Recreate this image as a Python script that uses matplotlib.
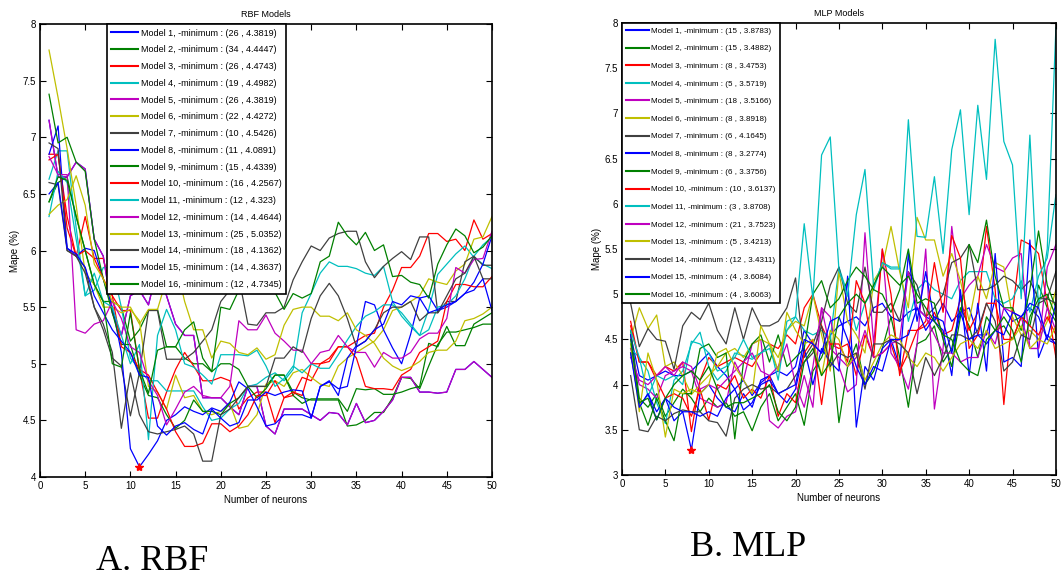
import numpy as np
import matplotlib
matplotlib.use("Agg")
import matplotlib.pyplot as plt

# fonts: narrow sans for the chart text, serif for the captions
plt.rcParams['font.family'] = ['Liberation Sans Narrow', 'Liberation Sans', 'DejaVu Sans']

# number of neurons on the x axis
neurons = list(range(1, 51))

# ---------------- RBF models (Mape %) ----------------
rbf_m1 = [7.15, 6.65, 6.65, 6.78, 6.72, 6.10, 5.95, 5.45, 5.25, 5.60, 5.65, 5.52, 5.85, 5.60, 5.35, 5.25, 5.25, 4.70, 4.70, 4.70,
          4.62, 4.55, 4.80, 4.80, 4.45, 4.38, 4.60, 4.60, 4.60, 4.55, 4.50, 4.57, 4.56, 4.46, 4.65, 4.48, 4.50, 4.58, 4.68, 4.88,
          4.88, 4.75, 4.75, 4.74, 4.75, 4.95, 4.95, 5.02, 4.95, 4.88]
rbf_m2 = [6.43, 6.60, 6.65, 6.30, 6.00, 5.70, 5.55, 5.55, 5.50, 5.20, 5.30, 5.47, 5.48, 5.15, 5.15, 5.05, 5.00, 5.00, 4.93, 5.00,
          5.00, 4.95, 4.80, 4.80, 4.80, 4.90, 4.90, 4.75, 4.70, 4.68, 4.68, 4.68, 4.68, 4.45, 4.46, 4.50, 4.57, 4.57, 4.70, 4.88,
          4.87, 4.78, 4.98, 5.17, 5.28, 5.28, 5.30, 5.32, 5.35, 5.35]
rbf_m3 = [6.85, 6.85, 6.30, 5.95, 6.30, 5.93, 5.93, 5.60, 5.47, 5.47, 4.95, 4.52, 4.52, 4.75, 4.95, 5.10, 4.98, 4.85, 4.85, 4.88,
          4.85, 4.60, 4.70, 4.75, 4.75, 4.48, 4.70, 4.72, 4.88, 4.85, 5.00, 5.02, 5.15, 5.15, 5.20, 5.25, 5.27, 5.50, 5.65, 5.85,
          5.85, 5.95, 6.15, 6.15, 6.08, 6.10, 6.00, 6.27, 6.10, 6.15]
rbf_m4 = [6.63, 6.88, 6.88, 6.20, 5.60, 5.65, 5.85, 5.85, 5.50, 5.05, 4.95, 4.85, 4.85, 4.76, 4.76, 4.76, 4.76, 4.62, 4.50, 4.52,
          4.60, 4.65, 4.80, 4.82, 4.88, 4.92, 4.85, 4.95, 5.45, 5.62, 5.80, 5.90, 5.86, 5.86, 5.84, 5.80, 5.78, 5.86, 5.55, 5.42,
          5.33, 5.25, 5.48, 5.79, 5.88, 5.97, 6.04, 5.94, 5.88, 5.84]
rbf_m5 = list(rbf_m1)  # model 5 has the same curve as model 1
rbf_m6 = [7.77, 7.35, 6.90, 6.40, 5.80, 5.70, 5.50, 5.50, 5.45, 5.48, 5.38, 4.80, 4.75, 4.60, 4.90, 4.70, 4.72, 4.58, 4.55, 4.58,
          4.65, 4.43, 4.45, 4.55, 4.82, 4.85, 4.80, 4.92, 4.95, 4.88, 4.82, 4.80, 4.98, 5.05, 5.10, 5.15, 5.20, 5.30, 5.47, 5.50,
          5.55, 5.60, 5.75, 5.72, 5.70, 5.82, 5.88, 6.10, 6.12, 6.30]
rbf_m7 = [6.60, 6.58, 6.00, 5.95, 5.85, 5.50, 5.30, 5.05, 4.98, 4.54, 4.92, 5.47, 5.47, 5.04, 5.04, 5.04, 5.10, 5.20, 5.30, 5.55,
          5.65, 5.76, 5.35, 5.34, 5.45, 5.45, 5.50, 5.74, 5.90, 6.04, 6.00, 6.11, 6.15, 6.17, 6.17, 5.90, 5.76, 5.86, 5.93, 5.99,
          5.92, 6.12, 6.12, 5.45, 5.55, 5.55, 5.90, 5.95, 5.87, 5.87]
rbf_m8 = [6.85, 7.10, 6.02, 5.95, 6.02, 6.00, 5.75, 5.50, 5.10, 4.25, 4.09, 4.20, 4.32, 4.50, 4.55, 4.62, 4.58, 4.55, 4.61, 4.58,
          4.66, 4.84, 4.78, 4.62, 4.45, 4.47, 4.55, 4.55, 4.55, 4.52, 4.80, 4.85, 4.72, 5.05, 5.16, 5.55, 5.52, 5.30, 5.14, 5.00,
          5.26, 5.58, 5.60, 5.47, 5.50, 5.55, 5.62, 5.72, 5.88, 6.13]
rbf_m9 = [7.38, 6.95, 7.00, 6.78, 6.70, 6.10, 5.75, 5.45, 5.17, 5.17, 4.90, 4.72, 4.70, 4.55, 4.43, 4.50, 4.68, 4.58, 4.58, 4.55,
          4.65, 4.70, 4.80, 4.70, 4.78, 4.90, 4.90, 4.72, 4.65, 4.69, 4.69, 4.69, 4.69, 4.58, 4.78, 4.77, 4.78, 4.73, 4.73, 4.75,
          4.78, 4.80, 5.18, 5.15, 5.33, 5.16, 5.16, 5.35, 5.40, 5.45]
rbf_m10 = [6.80, 6.85, 6.20, 5.95, 6.00, 5.93, 5.75, 5.60, 5.15, 5.10, 4.95, 4.90, 4.75, 4.60, 4.40, 4.27, 4.27, 4.30, 4.47, 4.47,
           4.40, 4.45, 4.55, 4.72, 4.72, 4.85, 4.70, 4.75, 4.72, 5.00, 5.00, 5.05, 5.15, 5.15, 5.05, 4.80, 4.78, 4.78, 4.77, 4.90,
           4.95, 5.10, 5.15, 5.20, 5.55, 5.70, 5.70, 5.68, 5.68, 5.77]
rbf_m11 = [6.30, 6.70, 6.60, 6.10, 5.60, 5.80, 5.55, 5.50, 5.25, 5.00, 5.17, 4.33, 5.25, 5.48, 5.30, 5.00, 4.97, 4.90, 4.82, 5.08,
           5.08, 5.08, 5.07, 5.12, 4.98, 4.80, 4.87, 4.98, 4.92, 5.00, 4.96, 4.96, 5.08, 5.21, 5.33, 5.42, 5.46, 5.52, 5.52, 5.45,
           5.35, 5.25, 5.30, 5.50, 5.52, 5.60, 5.75, 5.95, 6.05, 6.12]
rbf_m12 = [6.83, 6.67, 6.67, 5.30, 5.27, 5.35, 5.38, 5.55, 5.40, 5.15, 5.10, 4.85, 4.72, 4.46, 4.60, 4.75, 4.80, 4.72, 4.70, 4.70,
           4.80, 5.38, 5.30, 5.30, 5.43, 5.27, 5.20, 5.12, 5.12, 5.00, 5.10, 5.12, 5.25, 5.15, 5.10, 5.10, 4.97, 5.10, 5.05, 5.05,
           5.10, 5.22, 5.27, 5.27, 5.40, 5.85, 5.80, 5.92, 5.93, 6.17]
rbf_m13 = [6.32, 6.40, 6.45, 6.66, 6.40, 5.88, 5.75, 5.55, 5.50, 5.50, 5.35, 5.48, 5.48, 5.75, 5.90, 5.55, 5.30, 5.30, 5.05, 5.20,
           5.18, 5.10, 5.08, 5.14, 5.04, 5.08, 5.34, 5.48, 5.50, 5.50, 5.42, 5.42, 5.38, 5.45, 5.30, 5.25, 5.18, 5.05, 4.98, 4.94,
           4.97, 5.02, 5.10, 5.12, 5.12, 5.20, 5.38, 5.40, 5.44, 5.50]
rbf_m14 = [6.95, 6.90, 6.00, 5.95, 5.80, 5.50, 5.35, 5.10, 4.43, 4.92, 4.55, 4.40, 4.38, 4.40, 4.42, 4.45, 4.38, 4.14, 4.14, 4.55,
           4.60, 4.70, 4.80, 4.80, 4.80, 5.05, 5.05, 5.15, 5.10, 5.40, 5.60, 5.71, 5.60, 5.40, 5.15, 5.20, 5.30, 5.45, 5.50, 5.50,
           5.55, 5.38, 5.45, 5.45, 5.60, 5.75, 5.80, 5.95, 5.75, 5.75]
rbf_m15 = [6.50, 6.60, 6.02, 5.97, 5.85, 5.60, 5.45, 5.30, 5.20, 5.10, 4.90, 4.88, 4.45, 4.37, 4.45, 4.48, 4.42, 4.38, 4.60, 4.52,
           4.45, 4.48, 4.68, 4.68, 4.75, 4.72, 4.75, 4.77, 4.76, 4.52, 4.80, 4.84, 4.78, 4.80, 5.15, 5.20, 5.30, 5.35, 5.55, 5.52,
           5.60, 5.58, 5.45, 5.48, 5.52, 5.55, 5.62, 5.65, 5.75, 5.47]
rbf_m16 = [6.43, 6.65, 6.62, 6.30, 6.00, 5.70, 5.55, 5.00, 4.97, 5.45, 4.95, 4.74, 5.12, 5.15, 5.15, 5.30, 5.37, 5.05, 4.93, 5.50,
           5.48, 5.65, 5.85, 5.65, 5.65, 5.63, 5.48, 5.62, 5.58, 5.62, 5.90, 5.95, 6.25, 6.13, 6.05, 6.16, 6.00, 6.05, 5.77, 5.78,
           5.72, 5.70, 5.58, 5.88, 6.05, 6.19, 6.13, 5.98, 6.03, 6.13]

rbf_labels = ["Model 1, -minimum : (26 , 4.3819)", "Model 2, -minimum : (34 , 4.4447)",
              "Model 3, -minimum : (26 , 4.4743)", "Model 4, -minimum : (19 , 4.4982)",
              "Model 5, -minimum : (26 , 4.3819)", "Model 6, -minimum : (22 , 4.4272)",
              "Model 7, -minimum : (10 , 4.5426)", "Model 8, -minimum : (11 , 4.0891)",
              "Model 9, -minimum : (15 , 4.4339)", "Model 10, -minimum : (16 , 4.2567)",
              "Model 11, -minimum : (12 , 4.323)", "Model 12, -minimum : (14 , 4.4644)",
              "Model 13, -minimum : (25 , 5.0352)", "Model 14, -minimum : (18 , 4.1362)",
              "Model 15, -minimum : (14 , 4.3637)", "Model 16, -minimum : (12 , 4.7345)"]
rbf_best = (11, 4.0891)

# ---------------- MLP models (Mape %) ----------------
mlp_m1 = [4.55, 4.10, 4.05, 4.10, 4.15, 4.10, 4.10, 4.15, 4.25, 4.35, 4.20, 4.10, 3.95, 4.05, 3.88, 4.02, 4.10, 4.15, 4.10, 4.20,
          4.60, 4.45, 4.35, 4.55, 4.65, 4.70, 4.75, 4.65, 4.85, 4.90, 4.75, 4.70, 4.80, 4.85, 4.75, 4.70, 4.90, 4.70, 4.80, 4.85,
          4.55, 4.55, 4.95, 4.85, 4.70, 4.75, 4.85, 4.75, 4.50, 4.45]
mlp_m2 = [4.60, 3.85, 3.75, 3.90, 3.65, 3.80, 3.95, 3.85, 3.70, 3.85, 3.75, 3.80, 3.65, 3.70, 3.49, 3.75, 3.90, 3.60, 3.75, 3.90,
          3.55, 4.15, 4.30, 4.55, 3.58, 4.20, 4.45, 4.00, 4.15, 4.40, 4.75, 4.30, 3.75, 4.45, 4.50, 4.65, 4.25, 4.40, 4.85, 4.65,
          4.30, 4.75, 4.60, 4.65, 4.50, 4.75, 4.65, 5.10, 4.85, 4.70]
mlp_m3 = [4.70, 4.25, 4.25, 4.10, 4.20, 4.15, 4.25, 3.48, 4.05, 4.30, 4.20, 4.25, 4.30, 4.25, 4.20, 4.35, 4.45, 4.40, 4.55, 4.45,
          4.85, 5.00, 4.65, 4.45, 4.40, 4.45, 4.10, 4.55, 4.30, 4.35, 4.45, 4.15, 4.35, 4.60, 4.65, 4.80, 4.55, 4.60, 4.95, 4.60,
          4.80, 5.75, 5.05, 3.78, 4.80, 5.60, 5.55, 5.45, 4.90, 4.30]
mlp_m4 = [4.40, 4.30, 4.15, 3.80, 3.57, 4.05, 4.15, 4.45, 4.58, 4.20, 4.05, 4.15, 4.35, 4.32, 4.28, 4.35, 4.45, 4.05, 4.70, 4.75,
          4.60, 4.55, 4.60, 4.50, 5.30, 5.00, 4.60, 4.90, 5.05, 5.35, 5.30, 5.30, 4.70, 5.05, 5.15, 5.05, 5.00, 4.95, 5.15, 5.25,
          5.25, 5.25, 4.95, 4.90, 4.95, 5.15, 4.80, 5.20, 5.40, 6.10]
mlp_m5 = [4.40, 4.00, 3.95, 3.85, 4.10, 4.15, 4.20, 4.15, 3.85, 3.80, 3.75, 3.80, 4.25, 4.05, 4.45, 4.50, 3.60, 3.52, 3.65, 3.70,
          4.10, 3.75, 4.85, 4.75, 4.20, 3.92, 4.00, 5.68, 4.45, 5.50, 4.35, 4.20, 3.95, 4.45, 5.50, 3.73, 4.40, 5.75, 4.95, 5.10,
          5.20, 5.55, 5.30, 5.25, 5.40, 5.45, 4.40, 4.40, 5.30, 5.55]
mlp_m6 = [4.50, 4.85, 4.62, 4.77, 4.20, 4.25, 4.10, 3.89, 4.00, 4.10, 4.20, 4.35, 4.40, 4.30, 4.45, 4.50, 4.45, 4.30, 4.60, 4.70,
          4.65, 5.00, 4.55, 4.15, 5.25, 4.70, 4.55, 4.35, 5.15, 5.30, 5.75, 5.25, 4.85, 5.85, 5.60, 5.60, 5.20, 5.45, 5.15, 4.70,
          5.20, 4.95, 5.35, 5.30, 4.75, 4.55, 4.60, 4.50, 4.70, 5.05]
mlp_m7 = [4.90, 4.42, 4.62, 4.50, 4.48, 4.17, 4.65, 4.80, 4.72, 4.90, 4.60, 4.45, 4.85, 4.50, 4.85, 4.65, 4.65, 4.70, 4.85, 5.18,
          4.30, 4.45, 4.70, 5.10, 5.30, 4.90, 4.80, 5.30, 4.80, 4.80, 4.90, 4.70, 5.25, 5.10, 4.75, 4.85, 5.00, 5.35, 5.40, 5.55,
          5.05, 5.05, 5.10, 5.20, 5.15, 5.05, 5.15, 4.95, 4.95, 5.25]
mlp_m8 = [4.55, 3.75, 3.90, 3.70, 3.85, 3.60, 3.70, 3.28, 3.90, 4.00, 3.85, 3.75, 3.70, 3.90, 3.75, 4.05, 4.10, 3.90, 3.80, 3.95,
          4.40, 4.00, 4.40, 4.25, 4.15, 5.20, 3.53, 4.20, 4.05, 4.40, 4.50, 4.20, 5.45, 4.70, 5.25, 4.70, 4.60, 4.10, 5.05, 4.10,
          4.90, 4.15, 5.45, 4.25, 4.30, 4.20, 5.60, 4.30, 4.55, 4.45]
mlp_m9 = [4.35, 3.80, 3.55, 3.85, 3.60, 3.38, 3.90, 3.90, 4.40, 4.45, 4.30, 4.35, 3.40, 4.25, 4.45, 4.55, 4.25, 4.55, 4.20, 4.30,
          4.40, 5.00, 5.15, 4.85, 4.95, 5.15, 5.30, 5.20, 5.05, 5.00, 4.80, 5.05, 5.50, 4.90, 4.95, 4.90, 4.50, 4.20, 4.75, 5.55,
          5.35, 5.82, 5.20, 4.85, 4.85, 4.60, 5.05, 5.70, 5.10, 4.85]
mlp_m10 = [4.65, 4.25, 4.25, 4.05, 3.85, 3.90, 3.85, 3.65, 3.95, 3.61, 4.00, 3.95, 4.10, 3.85, 3.95, 3.85, 4.10, 3.65, 3.90, 3.80,
           4.35, 4.50, 3.78, 4.45, 4.45, 4.25, 5.15, 4.90, 4.30, 5.50, 5.00, 4.10, 4.60, 4.60, 4.70, 5.35, 4.80, 5.65, 5.40, 4.40,
           4.55, 4.90, 4.90, 4.50, 4.50, 4.75, 4.65, 4.55, 4.75, 4.55]
mlp_m11 = [4.60, 4.30, 3.87, 4.10, 4.05, 4.10, 4.00, 4.48, 4.45, 4.35, 4.15, 4.20, 4.30, 4.50, 4.30, 4.35, 4.40, 4.15, 4.60, 4.75,
           5.78, 4.95, 6.54, 6.74, 5.27, 4.98, 5.88, 6.38, 5.08, 5.35, 5.28, 5.28, 6.93, 5.64, 5.63, 6.30, 5.45, 6.60, 7.04, 5.88,
           7.09, 6.27, 7.82, 6.69, 6.43, 4.95, 6.76, 4.85, 5.50, 7.95]
mlp_m12 = [4.30, 4.05, 4.00, 4.10, 4.20, 4.10, 4.25, 4.20, 3.95, 4.00, 3.95, 4.05, 4.15, 4.25, 4.35, 4.15, 4.10, 4.20, 4.45, 4.00,
           3.75, 4.20, 4.85, 4.40, 4.30, 4.20, 4.30, 4.60, 4.30, 4.35, 4.45, 4.50, 5.25, 4.85, 4.75, 4.55, 4.35, 4.35, 4.25, 4.30,
           4.30, 4.60, 4.45, 4.85, 4.80, 4.75, 4.40, 4.40, 4.85, 4.60]
mlp_m13 = [4.45, 3.70, 4.35, 4.05, 3.42, 3.95, 3.90, 3.95, 3.90, 4.00, 4.35, 4.40, 4.20, 4.05, 3.90, 4.65, 4.45, 4.15, 4.80, 4.60,
           4.45, 4.50, 4.10, 4.60, 4.50, 4.20, 4.35, 4.05, 4.25, 4.45, 4.55, 4.50, 4.30, 4.20, 4.35, 4.30, 4.15, 4.30, 4.45, 4.50,
           4.40, 4.60, 4.40, 4.45, 4.50, 4.65, 4.40, 4.50, 4.45, 4.65]
mlp_m14 = [4.10, 3.50, 3.48, 3.65, 3.60, 3.68, 3.72, 3.70, 3.70, 3.60, 3.58, 3.43, 3.85, 3.95, 4.00, 3.95, 3.98, 3.90, 3.95, 4.10,
           4.25, 4.35, 4.65, 4.20, 4.35, 4.30, 4.35, 3.95, 4.45, 4.45, 4.50, 4.45, 4.35, 3.90, 4.30, 4.10, 4.30, 4.55, 4.55, 4.50,
           4.60, 4.90, 4.70, 4.15, 4.25, 4.55, 4.50, 4.90, 4.95, 4.90]
mlp_m15 = [4.35, 3.75, 3.90, 3.61, 3.85, 3.75, 3.70, 3.70, 3.65, 3.70, 3.65, 3.85, 3.95, 3.72, 3.80, 4.00, 4.05, 3.90, 3.95, 4.00,
           4.50, 4.45, 4.35, 4.70, 4.75, 4.50, 4.20, 4.00, 4.20, 4.15, 4.50, 4.50, 4.55, 4.85, 4.60, 4.75, 4.70, 4.35, 4.80, 4.50,
           4.55, 4.45, 4.60, 4.55, 4.80, 4.75, 4.90, 4.85, 4.50, 4.90]
mlp_m16 = [4.50, 3.80, 3.85, 3.61, 3.85, 4.00, 4.10, 4.15, 4.05, 4.20, 3.95, 3.75, 3.80, 3.80, 3.85, 3.90, 4.00, 3.70, 3.60, 3.75,
           4.25, 4.40, 4.10, 4.25, 4.75, 4.90, 5.00, 4.90, 5.10, 5.30, 5.20, 5.10, 5.20, 5.00, 4.85, 4.70, 4.55, 4.50, 4.25, 4.15,
           4.10, 4.50, 4.60, 4.75, 4.60, 4.25, 4.75, 4.95, 5.00, 4.75]

mlp_labels = ["Model 1, -minimum : (15 , 3.8783)", "Model 2, -minimum : (15 , 3.4882)",
              "Model 3, -minimum : (8 , 3.4753)", "Model 4, -minimum : (5 , 3.5719)",
              "Model 5, -minimum : (18 , 3.5166)", "Model 6, -minimum : (8 , 3.8918)",
              "Model 7, -minimum : (6 , 4.1645)", "Model 8, -minimum : (8 , 3.2774)",
              "Model 9, -minimum : (6 , 3.3756)", "Model 10, -minimum : (10 , 3.6137)",
              "Model 11, -minimum : (3 , 3.8708)", "Model 12, -minimum : (21 , 3.7523)",
              "Model 13, -minimum : (5 , 3.4213)", "Model 14, -minimum : (12 , 3.4311)",
              "Model 15, -minimum : (4 , 3.6084)", "Model 16, -minimum : (4 , 3.6063)"]
mlp_best = (8, 3.2774)

rbf_series = [rbf_m1, rbf_m2, rbf_m3, rbf_m4, rbf_m5, rbf_m6, rbf_m7, rbf_m8,
              rbf_m9, rbf_m10, rbf_m11, rbf_m12, rbf_m13, rbf_m14, rbf_m15, rbf_m16]
mlp_series = [mlp_m1, mlp_m2, mlp_m3, mlp_m4, mlp_m5, mlp_m6, mlp_m7, mlp_m8,
              mlp_m9, mlp_m10, mlp_m11, mlp_m12, mlp_m13, mlp_m14, mlp_m15, mlp_m16]

# old matlab line colour order, repeated
colours = ['#0000ff', '#008000', '#ff0000', '#00bfbf', '#bf00bf', '#bfbf00', '#404040']


def draw_panel(ax, series, labels, best, ylim, title, leg_x, leg_font, leg_space, leg_handle):
    for i, vals in enumerate(series):
        ax.plot(neurons, vals, color=colours[i % 7], linewidth=0.9, label=labels[i])
    ax.plot(best[0], best[1], marker='*', color='red', markersize=6, linestyle='none')
    ax.set_xlim(0, 50)
    ax.set_ylim(*ylim)
    ax.set_xticks(range(0, 51, 5))
    ax.set_yticks(np.arange(ylim[0], ylim[1] + 0.01, 0.5))
    ax.set_yticklabels([('%g' % v) for v in np.arange(ylim[0], ylim[1] + 0.01, 0.5)])
    ax.tick_params(direction='in', top=True, right=True, length=4, width=0.8, labelsize=7, pad=3)
    for s in ax.spines.values():
        s.set_linewidth(1.2)
    ax.set_title(title, fontsize=6.5, pad=5)
    ax.set_xlabel("Number of neurons", fontsize=7, labelpad=3)
    ax.set_ylabel("Mape (%)", fontsize=7, labelpad=2)
    leg = ax.legend(loc='upper left', bbox_to_anchor=(leg_x, 1.0), borderaxespad=0,
                    fontsize=leg_font, labelspacing=leg_space, handlelength=leg_handle,
                    handletextpad=0.3, borderpad=0.5, fancybox=False, framealpha=1,
                    edgecolor='black')
    leg.get_frame().set_linewidth(1.2)
    for line in leg.get_lines():
        line.set_linewidth(1.5)


fig = plt.figure(figsize=(10.61, 5.83), dpi=100)
ax1 = fig.add_axes([0.0377, 0.1818, 0.426, 0.777])
ax2 = fig.add_axes([0.5862, 0.1852, 0.409, 0.7753])

draw_panel(ax1, rbf_series, rbf_labels, rbf_best, (4, 8), "RBF Models", 0.148, 6.5, 0.86, 3.0)
draw_panel(ax2, mlp_series, mlp_labels, mlp_best, (3, 8), "MLP Models", 0.0, 5.8, 1.24, 2.8)

# captions under the two panels
fig.text(152 / 1061, 1 - 562 / 583, "A. RBF", family=['Liberation Serif', 'DejaVu Serif'],
         fontsize=26, ha='center', va='center')
fig.text(748 / 1061, 1 - 548 / 583, "B. MLP", family=['Liberation Serif', 'DejaVu Serif'],
         fontsize=26, ha='center', va='center')

fig.savefig('out.png', dpi=100)
